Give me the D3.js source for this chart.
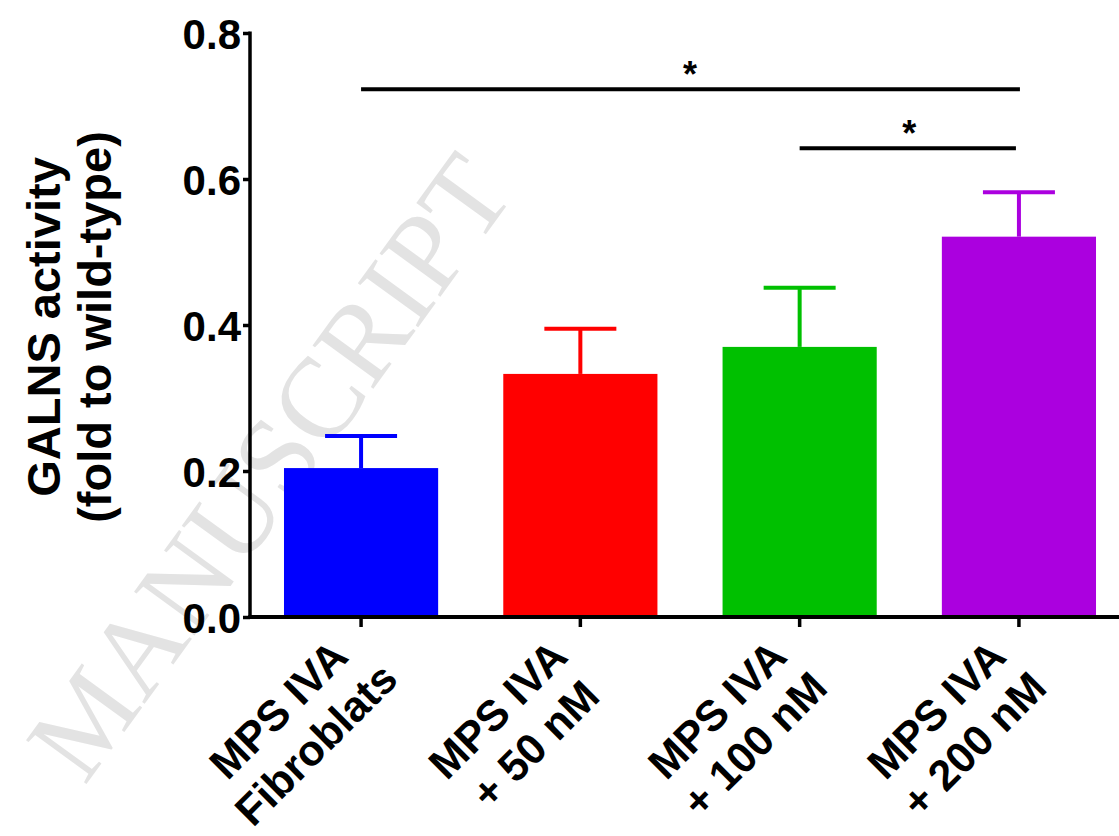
<!DOCTYPE html>
<html>
<head>
<meta charset="utf-8">
<script src="https://cdnjs.cloudflare.com/ajax/libs/d3/7.8.5/d3.min.js"></script>
<style>
  html, body { margin: 0; padding: 0; background: #fff; }
  svg { display: block; }
  text { font-family: "Liberation Sans", Arial, sans-serif; }
</style>
</head>
<body>
<div id="chart"></div>
<script>
// data
const groups = [
  ["MPS IVA", "Fibroblats"],
  ["MPS IVA", "+ 50 nM"],
  ["MPS IVA", "+ 100 nM"],
  ["MPS IVA", "+ 200 nM"]
];
const means = [0.204, 0.333, 0.370, 0.521];
const sems = [0.044, 0.062, 0.081, 0.061];
const barColors = ["#0000ff", "#ff0000", "#00c000", "#ab00df"];
const yTicks = [0.0, 0.2, 0.4, 0.6, 0.8];
// significance brackets: from group, to group, height
const sigFrom = [0, 2];
const sigTo = [3, 3];
const sigAt = [0.723, 0.642];

const W = 1119, H = 836;
const plotLeft = 250, plotBottom = 617, plotTop = 33;

const svg = d3.select("#chart").append("svg")
  .attr("width", W).attr("height", H);

// watermark
svg.append("g")
  .attr("transform", "translate(268,466) rotate(-54)")
  .append("text")
  .attr("text-anchor", "middle")
  .attr("y", 40)
  .style("font-family", "'Liberation Serif', 'DejaVu Serif', serif")
  .style("font-size", "114px")
  .attr("fill", "#e3e3e3")
  .text("MANUSCRIPT");

const x = d3.scaleBand()
  .domain(d3.range(groups.length))
  .range([plotLeft, 1130])
  .paddingInner(0.297)
  .paddingOuter(0.155);

const y = d3.scaleLinear().domain([0, 0.8]).range([plotBottom, plotTop]);

// bars
svg.selectAll("rect.bar")
  .data(means)
  .enter().append("rect")
  .attr("class", "bar")
  .attr("x", (d, i) => x(i))
  .attr("width", x.bandwidth())
  .attr("y", d => y(d))
  .attr("height", d => y(0) - y(d))
  .attr("fill", (d, i) => barColors[i]);

// error bars (upper only)
const eb = svg.selectAll("g.err")
  .data(means)
  .enter().append("g")
  .attr("class", "err")
  .attr("stroke", (d, i) => barColors[i])
  .attr("stroke-width", 4);
eb.append("line")
  .attr("x1", (d, i) => x(i) + x.bandwidth() / 2)
  .attr("x2", (d, i) => x(i) + x.bandwidth() / 2)
  .attr("y1", d => y(d))
  .attr("y2", (d, i) => y(d + sems[i]));
eb.append("line")
  .attr("x1", (d, i) => x(i) + x.bandwidth() / 2 - 36)
  .attr("x2", (d, i) => x(i) + x.bandwidth() / 2 + 36)
  .attr("y1", (d, i) => y(d + sems[i]))
  .attr("y2", (d, i) => y(d + sems[i]));

// y axis
const yAxis = svg.append("g")
  .attr("transform", "translate(" + plotLeft + ",0)")
  .call(d3.axisLeft(y).tickValues(yTicks).tickFormat(d3.format(".1f")).tickSize(7).tickPadding(2));
yAxis.select(".domain").attr("d", "M0," + (plotTop - 1.5) + "V" + plotBottom).attr("stroke-width", 3.5);
yAxis.selectAll(".tick line").attr("stroke-width", 3.5);
yAxis.selectAll(".tick text")
  .style("font-size", "42px").style("font-weight", "bold").attr("fill", "#000")
  .attr("dy", "0.36em");

// x axis
const xAxis = svg.append("g")
  .attr("transform", "translate(0," + plotBottom + ")")
  .call(d3.axisBottom(x).tickSize(10).tickFormat(""));
xAxis.select(".domain").attr("d", "M" + (plotLeft - 1.75) + ",0H" + W).attr("stroke-width", 4);
xAxis.selectAll(".tick line").attr("stroke-width", 3.5);

// rotated category labels
const lab = svg.selectAll("g.lab")
  .data(groups)
  .enter().append("g")
  .attr("class", "lab")
  .attr("transform", (d, i) => "translate(" + (x(i) + x.bandwidth() / 2) + "," + plotBottom + ") rotate(-45)");
lab.selectAll("text")
  .data(d => d)
  .enter().append("text")
  .attr("text-anchor", "middle")
  .attr("x", (d, j) => -124 + j * 2)
  .attr("y", (d, j) => 22 + j * 51)
  .style("font-size", "43px").style("font-weight", "bold")
  .text(d => d);

// y title
const yt = svg.append("g").attr("transform", "translate(0,327) rotate(-90)");
yt.append("text").attr("text-anchor", "middle").attr("y", 60)
  .style("font-size", "47px").style("font-weight", "bold").text("GALNS activity");
yt.append("text").attr("text-anchor", "middle").attr("y", 111)
  .style("font-size", "47px").style("font-weight", "bold").text("(fold to wild-type)");

// significance
const cx = i => x(i) + x.bandwidth() / 2;
sigAt.forEach((v, k) => {
  const x1 = cx(sigFrom[k]), x2 = cx(sigTo[k]);
  svg.append("line")
    .attr("x1", x1).attr("x2", x2 - (k === 1 ? 3 : -1))
    .attr("y1", y(v)).attr("y2", y(v))
    .attr("stroke", "#000").attr("stroke-width", 4);
  svg.append("text")
    .attr("x", (x1 + x2) / 2).attr("y", y(v) - 2)
    .attr("text-anchor", "middle")
    .style("font-size", "36px").style("font-weight", "bold")
    .text("*");
});
</script>
</body>
</html>
